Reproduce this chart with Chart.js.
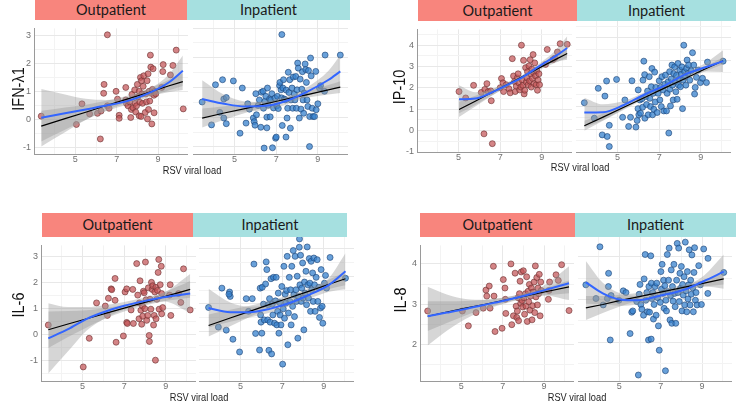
<!DOCTYPE html>
<html>
<head>
<meta charset="utf-8">
<script src="https://cdn.jsdelivr.net/npm/chart.js@4/dist/chart.umd.min.js"></script>
<style>
  body { margin: 0; background: #fff; width: 736px; height: 406px; position: relative; overflow: hidden; font-family: "Liberation Sans", Arial, sans-serif; }
  canvas { position: absolute; }
  .strip { position: absolute; font-family: Lato, "Open Sans", sans-serif; font-size: 14.5px; color: #1a1a1a; text-align: center; }
  .out { background: #F8857D; }
  .in { background: #A6E0E0; }
  .ytitle { position: absolute; font-size: 17px; color: #111; white-space: nowrap; transform: translate(-50%, -50%) rotate(-90deg) scaleX(0.85); }
  .xtitle { position: absolute; font-size: 10.5px; color: #222; white-space: nowrap; transform: translate(-50%, -50%) scaleX(0.88); }
</style>
</head>
<body>
<script>
// ---- data: [viral load, cytokine] ----
const ifnOut = [[3.35,0.12],[5.05,-0.18],[5.32,0.56],[5.69,0.2],[6.07,0.22],[6.21,-0.7],[6.24,0.3],[6.37,0.94],[6.39,1.26],[6.55,3.04],[6.55,0.49],[6.63,0.4],[6.97,1.01],[7.04,0.73],[7.12,0.15],[7.12,0.04],[7.44,1.15],[7.44,0.7],[7.47,0.58],[7.55,0.49],[7.63,0.63],[7.68,0.07],[7.71,0.36],[7.74,0.9],[7.79,0.42],[7.87,1.06],[7.89,0.58],[7.92,0.27],[7.96,0.49],[8.0,1.26],[8.02,0.81],[8.09,1.01],[8.09,0.13],[8.12,0.62],[8.15,1.51],[8.18,0.11],[8.2,1.39],[8.23,0.92],[8.25,0.58],[8.28,1.19],[8.31,1.57],[8.38,0.25],[8.41,0.92],[8.44,0.63],[8.47,1.39],[8.49,0.02],[8.52,1.64],[8.54,0.36],[8.57,1.01],[8.6,0.66],[8.63,2.31],[8.65,1.88],[8.68,0.94],[8.7,-0.16],[8.73,1.08],[8.76,1.82],[8.8,0.87],[8.81,0.24],[8.85,1.01],[8.89,0.92],[9.18,1.15],[9.23,1.72],[9.25,1.97],[9.6,1.6],[9.72,1.94],[9.88,2.49],[10.22,0.38]];
const ifnIn = [[3.44,0.51],[3.89,-0.26],[4.08,1.09],[4.29,0.16],[4.42,1.26],[4.48,0.61],[4.6,0.66],[4.48,-0.03],[4.6,-0.22],[4.94,1.22],[5.26,-0.54],[5.37,0.98],[5.55,-0.2],[5.63,0.45],[5.71,0.27],[5.9,-0.03],[5.94,-0.15],[5.98,-0.27],[6.02,0.79],[6.05,0.08],[6.13,0.39],[6.19,0.58],[6.26,-0.34],[6.29,0.84],[6.37,0.87],[6.39,0.3],[6.42,-1.04],[6.45,0.53],[6.5,0.7],[6.55,-0.36],[6.55,0],[6.58,0.98],[6.61,0.4],[6.68,0.61],[6.71,0.01],[6.74,0.58],[6.79,0.79],[6.82,-1.03],[6.87,0.31],[6.94,0.64],[6.97,-0.71],[7.0,-0.67],[7.03,0.38],[7.06,0.7],[7.1,0.29],[7.16,1.06],[7.18,1.17],[7.23,0.92],[7.26,0.65],[7.27,2.78],[7.29,-0.28],[7.32,0.98],[7.35,1.26],[7.39,0.61],[7.44,0.58],[7.47,-0.67],[7.48,0.91],[7.52,-0.03],[7.55,0.3],[7.58,1.51],[7.61,0.83],[7.65,1.26],[7.68,-0.37],[7.71,0.58],[7.76,0.98],[7.79,0.3],[7.82,1.35],[7.87,0.78],[7.9,0.58],[7.94,1.37],[7.97,0.3],[8.0,0.92],[8.03,1.82],[8.06,1.65],[8.11,-0.03],[8.15,1.28],[8.19,0.27],[8.23,0.94],[8.26,1.53],[8.29,0.58],[8.32,0.13],[8.35,0.81],[8.39,1.79],[8.42,1.6],[8.45,1.17],[8.48,0.58],[8.52,0.36],[8.55,1.57],[8.6,-0.99],[8.61,0.02],[8.65,1.99],[8.68,1.39],[8.73,0.3],[8.77,0.02],[8.84,0.02],[8.9,1.54],[8.92,0.25],[9.0,0.45],[9.08,0.98],[9.13,1.06],[9.32,0.87],[9.35,2.09],[10.08,2.09]];
const ipOut = [[5.02,1.83],[5.34,1.53],[5.72,2.12],[6.09,1.79],[6.22,-0.15],[6.26,1.93],[6.36,2.2],[6.42,1.83],[6.55,1.86],[6.57,1.4],[6.62,-0.61],[7.0,2.01],[7.06,2.44],[7.13,2.24],[7.16,1.83],[7.29,2.15],[7.42,1.96],[7.48,1.77],[7.58,3.37],[7.64,2.56],[7.69,2.3],[7.72,1.83],[7.77,2.08],[7.82,2.47],[7.86,2.66],[7.9,2.23],[7.93,1.91],[7.99,2.04],[8.02,4.0],[8.06,2.37],[8.09,2.12],[8.12,3.29],[8.15,1.72],[8.18,1.89],[8.22,2.95],[8.25,2.27],[8.28,2.47],[8.31,2.76],[8.34,2.15],[8.38,3.03],[8.41,2.33],[8.44,3.32],[8.46,2.66],[8.49,2.04],[8.52,2.88],[8.55,2.44],[8.58,3.56],[8.6,2.73],[8.63,2.2],[8.66,3.17],[8.7,2.56],[8.73,2.15],[8.76,2.81],[8.79,1.89],[8.82,2.37],[8.86,2.66],[8.89,2.15],[9.18,3.1],[9.26,3.8],[9.53,3.32],[9.62,3.39],[9.75,3.68],[9.88,4.07],[10.22,4.04]];
const ipIn = [[3.4,1.16],[3.88,0.48],[4.07,1.79],[4.26,-0.25],[4.39,1.45],[4.47,2.11],[4.5,-0.32],[4.6,0.17],[4.6,-0.76],[4.95,2.18],[5.24,0.52],[5.35,1.28],[5.53,0.12],[5.62,0.52],[5.69,2.12],[5.88,0.09],[5.94,0.38],[5.98,0.9],[5.99,1.72],[6.02,0.63],[6.07,1.28],[6.1,0.7],[6.17,1.33],[6.2,0.96],[6.22,2.15],[6.26,2.98],[6.3,2.39],[6.31,0.48],[6.36,1.43],[6.39,1.08],[6.44,1.67],[6.47,0.63],[6.52,2.3],[6.55,1.35],[6.58,0.99],[6.62,1.86],[6.65,2.66],[6.68,0.63],[6.71,1.57],[6.74,0.87],[6.78,2.5],[6.81,1.19],[6.84,1.83],[6.9,0.73],[6.95,1.57],[7.0,2.12],[7.03,1.28],[7.06,1.83],[7.1,0.99],[7.13,2.3],[7.19,1.72],[7.22,0.8],[7.27,1.97],[7.3,2.37],[7.35,0.8],[7.38,1.57],[7.43,2.08],[7.46,-0.17],[7.5,2.52],[7.51,1.75],[7.54,1.02],[7.58,2.2],[7.61,2.81],[7.64,1.93],[7.67,1.28],[7.7,2.44],[7.74,2.73],[7.77,2.08],[7.8,1.64],[7.83,2.36],[7.86,1.31],[7.9,2.88],[7.93,1.93],[7.96,2.18],[7.99,2.59],[8.02,1.86],[8.06,2.41],[8.09,2.73],[8.12,0.9],[8.15,2.15],[8.18,3.68],[8.22,2.52],[8.25,2.3],[8.28,1.93],[8.31,2.66],[8.34,3.03],[8.38,2.44],[8.41,2.81],[8.47,2.15],[8.54,2.56],[8.6,3.35],[8.66,2.81],[8.7,1.54],[8.73,1.83],[8.79,2.27],[8.87,2.59],[8.98,2.04],[9.08,2.23],[9.27,2.04],[9.32,2.94],[10.07,2.98]];
const il6Out = [[3.35,0.36],[5.03,-1.25],[5.32,-0.15],[5.67,1.21],[6.09,1.09],[6.19,0.73],[6.24,1.39],[6.37,1.75],[6.4,1.72],[6.56,2.15],[6.56,1.31],[6.61,-0.3],[6.96,-0.06],[7.04,1.63],[7.12,1.75],[7.12,0.46],[7.15,0.42],[7.33,0.94],[7.41,1.73],[7.44,0.42],[7.6,2.72],[7.65,1.51],[7.71,0.6],[7.73,1.21],[7.76,2.06],[7.8,0.93],[7.84,0.39],[7.88,1.09],[7.89,0.7],[7.92,1.66],[7.96,1.6],[7.99,0.99],[8.02,2.78],[8.05,1.33],[8.08,0.54],[8.13,0.73],[8.16,1.79],[8.2,-0.04],[8.21,-0.27],[8.24,1.35],[8.28,0.97],[8.31,2.0],[8.34,1.73],[8.37,1.87],[8.41,0.36],[8.44,0.73],[8.47,1.63],[8.5,-0.99],[8.52,1.81],[8.53,0.6],[8.57,1.35],[8.6,1.69],[8.63,2.38],[8.66,2.88],[8.68,0.97],[8.73,1.91],[8.78,2.62],[8.8,0.79],[8.85,1.03],[8.8,1.57],[9.21,1.91],[9.24,0.73],[9.18,1.51],[9.61,1.57],[9.72,1.23],[9.85,2.52],[10.17,0.94]];
const il6In = [[3.46,0.87],[3.93,0.16],[4.1,1.57],[4.31,0.05],[4.47,1.43],[4.5,1.27],[4.44,1.35],[4.63,-0.28],[4.95,-0.74],[5.27,1.19],[5.38,0.73],[5.56,1.19],[5.64,2.44],[5.72,-0.07],[5.91,-0.67],[5.94,1.57],[5.96,0.6],[5.98,0.34],[6.02,-0.06],[6.04,1.6],[6.1,0.99],[6.14,0.42],[6.2,1.72],[6.23,2.52],[6.26,2.24],[6.3,0.42],[6.33,0.97],[6.36,-0.68],[6.39,1.19],[6.42,0.34],[6.46,1.91],[6.49,-0.81],[6.52,0.99],[6.55,0.6],[6.58,1.96],[6.63,0.3],[6.68,1.11],[6.71,1.96],[6.74,0.24],[6.78,0.73],[6.81,1.39],[6.84,-0.06],[6.87,1.05],[6.9,0.6],[6.94,0.24],[6.98,1.63],[7.02,-1.18],[7.05,0.82],[7.08,2.36],[7.11,0.48],[7.14,1.35],[7.18,1.03],[7.21,1.48],[7.24,2.72],[7.27,-0.48],[7.3,0.67],[7.34,1.96],[7.37,1.09],[7.4,1.51],[7.43,0.24],[7.46,2.36],[7.5,0.91],[7.53,2.93],[7.56,1.33],[7.59,0.54],[7.62,2.72],[7.66,1.51],[7.69,1.09],[7.72,2.0],[7.75,-0.24],[7.78,1.27],[7.82,3.05],[7.83,3.35],[7.85,1.69],[7.88,2.76],[7.91,1.09],[7.94,1.57],[7.98,2.48],[8.01,1.21],[8.04,0.06],[8.07,1.79],[8.1,1.39],[8.14,2.18],[8.17,0.97],[8.2,3.06],[8.23,1.69],[8.26,1.21],[8.3,2.64],[8.33,1.75],[8.36,0.73],[8.39,2.54],[8.42,1.51],[8.46,2.12],[8.49,1.09],[8.52,2.66],[8.55,1.69],[8.58,0.73],[8.63,1.96],[8.68,2.6],[8.71,1.09],[8.76,1.6],[8.79,0.51],[8.84,0.85],[8.87,2.24],[8.92,0.91],[8.95,0.3],[9.03,1.75],[9.08,2.03],[9.13,1.57],[9.3,2.68],[10.04,1.93]];
const il8Out = [[3.37,2.83],[5.05,2.83],[5.34,2.46],[5.71,2.79],[6.06,2.9],[6.19,3.35],[6.23,3.2],[6.35,3.45],[6.39,2.9],[6.55,3.94],[6.58,3.2],[6.63,2.32],[6.97,2.4],[7.03,3.61],[7.11,3.4],[7.13,3.12],[7.15,2.77],[7.4,4.0],[7.44,2.49],[7.52,2.71],[7.6,3.77],[7.65,2.95],[7.68,2.67],[7.71,2.83],[7.74,3.16],[7.77,2.59],[7.81,3.26],[7.84,3.57],[7.87,3.02],[7.9,3.8],[7.94,3.09],[7.97,2.93],[8.0,3.83],[8.03,3.16],[8.06,2.75],[8.1,3.26],[8.13,2.95],[8.16,3.68],[8.19,2.57],[8.23,3.32],[8.26,3.06],[8.29,3.49],[8.32,2.85],[8.35,3.2],[8.39,3.4],[8.42,2.61],[8.45,2.96],[8.48,3.3],[8.52,3.55],[8.55,2.79],[8.58,3.95],[8.61,3.18],[8.65,3.66],[8.68,2.98],[8.71,3.4],[8.74,3.26],[8.77,3.74],[8.81,2.71],[8.84,3.55],[8.87,3.34],[9.21,3.12],[9.24,3.34],[9.27,3.55],[9.58,3.73],[9.69,3.59],[9.85,3.98],[10.21,2.84]];
const il8In = [[3.38,3.34],[3.87,3.02],[4.06,4.23],[4.22,2.87],[4.42,3.02],[4.47,3.3],[4.48,3.61],[4.56,2.05],[4.6,3.09],[4.98,2.98],[5.19,3.2],[5.32,3.16],[5.52,2.2],[5.6,2.7],[5.65,2.73],[5.84,2.95],[5.92,1.23],[5.96,3.12],[6.0,3.35],[6.04,2.88],[6.09,2.77],[6.17,2.63],[6.2,3.48],[6.25,4.05],[6.28,2.98],[6.33,3.16],[6.36,2.71],[6.41,2.05],[6.43,3.3],[6.46,2.7],[6.52,4.02],[6.54,2.07],[6.55,3.38],[6.57,3.02],[6.62,3.16],[6.65,2.54],[6.68,2.88],[6.73,3.3],[6.78,2.63],[6.81,3.38],[6.85,3.04],[6.89,2.38],[6.93,1.81],[6.98,2.93],[7.01,3.65],[7.04,3.24],[7.07,3.82],[7.11,3.14],[7.14,3.45],[7.17,2.79],[7.2,3.32],[7.23,1.33],[7.25,2.98],[7.28,2.73],[7.32,4.05],[7.35,3.18],[7.38,3.45],[7.41,4.2],[7.45,2.52],[7.48,3.09],[7.51,3.69],[7.54,2.44],[7.57,3.3],[7.6,2.96],[7.64,3.82],[7.67,3.14],[7.7,2.83],[7.73,2.44],[7.77,3.45],[7.8,4.31],[7.83,3.16],[7.87,4.2],[7.9,2.95],[7.93,3.61],[7.96,3.26],[8.0,3.77],[8.03,2.73],[8.06,3.35],[8.09,3.1],[8.13,3.53],[8.16,2.87],[8.19,4.34],[8.22,3.2],[8.26,2.71],[8.29,3.65],[8.32,3.01],[8.35,3.34],[8.38,4.16],[8.42,2.87],[8.45,3.45],[8.48,3.12],[8.51,4.04],[8.55,3.27],[8.58,2.71],[8.61,3.63],[8.64,4.21],[8.68,2.98],[8.71,3.16],[8.76,2.87],[8.84,3.79],[8.92,3.34],[8.97,2.88],[9.08,4.18],[9.29,3.96],[9.28,3.14],[10.05,3.63]];

// ---- smoother curves: x grid, loess fit and half band, linear fit and half band ----
const ifnOutFx = [3.35, 4.5, 5.5, 6.5, 7.5, 8.5, 9.5, 10.2];
const ifnOutLoess = [0.06, 0.22, 0.36, 0.5, 0.66, 0.93, 1.32, 1.75];
const ifnOutLoessSe = [1.03, 0.68, 0.38, 0.2, 0.13, 0.14, 0.28, 0.55];
const ifnOutLm = [-0.24, 0.03, 0.26, 0.5, 0.73, 0.96, 1.2, 1.36];
const ifnOutLmSe = [0.55, 0.4, 0.27, 0.17, 0.12, 0.13, 0.22, 0.3];

const ifnInFx = [3.44, 4.5, 5.5, 6.5, 7.5, 8.5, 9.5, 10.08];
const ifnInLoess = [0.61, 0.45, 0.36, 0.38, 0.55, 0.86, 1.25, 1.54];
const ifnInLoessSe = [0.63, 0.3, 0.17, 0.13, 0.12, 0.15, 0.3, 0.55];
const ifnInLm = [-0.03, 0.14, 0.29, 0.45, 0.61, 0.76, 0.92, 1.01];
const ifnInLmSe = [0.32, 0.23, 0.15, 0.1, 0.08, 0.1, 0.16, 0.2];

const ipOutFx = [5.02, 5.8, 6.5, 7.3, 8.1, 8.9, 9.6, 10.22];
const ipOutLoess = [1.47, 1.5, 1.75, 2.12, 2.52, 3.03, 3.45, 3.87];
const ipOutLoessSe = [0.65, 0.3, 0.15, 0.1, 0.1, 0.12, 0.25, 0.55];
const ipOutLm = [0.99, 1.38, 1.74, 2.14, 2.54, 2.95, 3.3, 3.61];
const ipOutLmSe = [0.35, 0.25, 0.16, 0.1, 0.08, 0.1, 0.15, 0.2];

const ipInFx = [3.4, 4.3, 5.3, 6.3, 7.3, 8.2, 9.1, 10.07];
const ipInLoess = [0.73, 0.74, 1.06, 1.52, 1.93, 2.38, 2.68, 2.98];
const ipInLoessSe = [0.65, 0.35, 0.17, 0.1, 0.08, 0.1, 0.15, 0.48];
const ipInLm = [0.15, 0.53, 0.96, 1.39, 1.82, 2.2, 2.59, 3.0];
const ipInLmSe = [0.22, 0.16, 0.11, 0.07, 0.06, 0.07, 0.1, 0.15];

const il6OutFx = [3.35, 4.3, 5.2, 6.1, 7.0, 7.9, 8.9, 10.17];
const il6OutLoess = [-0.15, 0.2, 0.6, 0.88, 1.1, 1.27, 1.43, 1.57];
const il6OutLoessSe = [1.35, 0.85, 0.45, 0.25, 0.15, 0.13, 0.17, 0.75];
const il6OutLm = [0.18, 0.4, 0.6, 0.81, 1.01, 1.21, 1.44, 1.73];
const il6OutLmSe = [0.7, 0.5, 0.33, 0.2, 0.13, 0.12, 0.17, 0.32];

const il6InFx = [3.46, 4.5, 5.4, 6.4, 7.35, 8.3, 9.25, 10.04];
const il6InLoess = [0.85, 0.7, 0.7, 0.82, 1.03, 1.33, 1.69, 2.18];
const il6InLoessSe = [0.7, 0.35, 0.2, 0.14, 0.12, 0.14, 0.25, 0.65];
const il6InLm = [0.22, 0.49, 0.72, 0.98, 1.22, 1.46, 1.71, 1.91];
const il6InLmSe = [0.4, 0.3, 0.2, 0.13, 0.1, 0.11, 0.17, 0.24];

const il8OutFx = [3.37, 4.3, 5.2, 6.1, 7.0, 7.9, 8.9, 10.21];
const il8OutLoess = [2.7, 2.79, 2.88, 2.98, 3.08, 3.19, 3.33, 3.52];
const il8OutLoessSe = [0.73, 0.45, 0.25, 0.13, 0.08, 0.07, 0.1, 0.42];
const il8OutLm = [2.7, 2.8, 2.9, 2.99, 3.09, 3.18, 3.29, 3.43];
const il8OutLmSe = [0.37, 0.27, 0.18, 0.11, 0.07, 0.06, 0.09, 0.16];

const il8InFx = [3.38, 4.2, 5.0, 5.9, 7.0, 8.1, 9.1, 10.05];
const il8InLoess = [3.4, 3.14, 3.0, 2.98, 3.09, 3.22, 3.43, 3.65];
const il8InLoessSe = [0.5, 0.25, 0.15, 0.1, 0.08, 0.08, 0.13, 0.4];
const il8InLm = [2.8, 2.88, 2.97, 3.06, 3.17, 3.28, 3.38, 3.48];
const il8InLmSe = [0.28, 0.2, 0.14, 0.09, 0.06, 0.06, 0.08, 0.13];

// ---- ticks ----
const xTicks = [4, 5, 6, 7, 8, 9, 10];
const xLabels = [5, 7, 9];
const ifnTicks = [-1, -0.5, 0, 0.5, 1, 1.5, 2, 2.5, 3];
const ipTicks = [-1, -0.5, 0, 0.5, 1, 1.5, 2, 2.5, 3, 3.5, 4, 4.5];
const il6Ticks = [-1.5, -1, -0.5, 0, 0.5, 1, 1.5, 2, 2.5, 3];
const il8Ticks = [1.5, 2, 2.5, 3, 3.5, 4];

const outFill = 'rgba(195,85,88,0.72)', outEdge = 'rgba(110,50,50,0.8)';
const inFill = 'rgba(55,130,205,0.75)', inEdge = 'rgba(30,70,120,0.8)';

function xy(xs, ys, se, sign) {
    return xs.map(function (x, i) { return { x: x, y: ys[i] + (se ? sign * se[i] : 0) }; });
}

function facet(c) {
    const pad = c.showY ? 30 : 0, bottom = 15;
    const cv = document.createElement('canvas');
    cv.width = c.w + pad;
    cv.height = c.h + bottom;
    cv.style.left = (c.x - pad) + 'px';
    cv.style.top = c.y + 'px';
    document.body.appendChild(cv);

    const band = { type: 'line', pointRadius: 0, borderWidth: 0, borderColor: 'rgba(0,0,0,0)',
        backgroundColor: 'rgba(153,153,153,0.4)', cubicInterpolationMode: 'monotone', order: 2 };

    new Chart(cv, {
        type: 'scatter',
        data: {
            datasets: [
                Object.assign({}, band, { data: xy(c.fx, c.loess, c.loessSe, 1), fill: '+1' }),
                Object.assign({}, band, { data: xy(c.fx, c.loess, c.loessSe, -1), fill: false }),
                Object.assign({}, band, { data: xy(c.fx, c.lm, c.lmSe, 1), fill: '+1' }),
                Object.assign({}, band, { data: xy(c.fx, c.lm, c.lmSe, -1), fill: false }),
                { type: 'line', data: xy(c.fx, c.lm), borderColor: '#000', borderWidth: 1.2, pointRadius: 0, fill: false, order: 1 },
                { type: 'line', data: xy(c.fx, c.loess), borderColor: '#3366FF', borderWidth: 2, pointRadius: 0,
                  fill: false, cubicInterpolationMode: 'monotone', order: 0 },
                { data: c.pts.map(function (p) { return { x: p[0], y: p[1] }; }),
                  backgroundColor: c.out ? outFill : inFill, borderColor: c.out ? outEdge : inEdge,
                  borderWidth: 0.8, pointRadius: 3.0, order: 3 }
            ]
        },
        options: {
            responsive: false,
            animation: false,
            layout: { padding: 0, autoPadding: false },
            plugins: { legend: { display: false }, tooltip: { enabled: false } },
            scales: {
                x: {
                    type: 'linear', min: 3, max: 10.45,
                    afterBuildTicks: function (s) { s.ticks = xTicks.map(function (v) { return { value: v }; }); },
                    afterFit: function (s) { s.height = bottom; },
                    ticks: {
                        autoSkip: false, maxRotation: 0, padding: 0, color: '#707070',
                        font: { size: 9, family: 'Liberation Sans, Arial' },
                        callback: function (v) { return xLabels.indexOf(v) >= 0 ? String(v) : ''; }
                    },
                    grid: { drawTicks: false, color: function (ctx) { return xLabels.indexOf(ctx.tick && ctx.tick.value) >= 0 ? '#e8e8e8' : '#f3f3f3'; } },
                    border: { display: true, color: '#9a9a9a', width: 1 }
                },
                y: {
                    type: 'linear', min: c.yMin, max: c.yMax,
                    afterBuildTicks: function (s) { s.ticks = c.yTicks.map(function (v) { return { value: v }; }); },
                    afterFit: function (s) { s.width = pad; },
                    ticks: {
                        display: c.showY, autoSkip: false, padding: 3, color: '#707070',
                        font: { size: 9, family: 'Liberation Sans, Arial' },
                        callback: function (v) { return Number.isInteger(v) ? String(v) : ''; }
                    },
                    grid: { drawTicks: false, color: function (ctx) { return ctx.tick && Number.isInteger(ctx.tick.value) ? '#e8e8e8' : '#f3f3f3'; } },
                    border: { display: c.showY, color: '#9a9a9a', width: 1 }
                }
            }
        }
    });
}

function label(cls, text, style) {
    const d = document.createElement('div');
    d.className = cls;
    d.textContent = text;
    Object.assign(d.style, style);
    document.body.appendChild(d);
}

function strips(y, h, x0, x1, x2) {
    label('strip out', 'Outpatient', { left: x0 + 'px', top: y + 'px', width: (x1 - x0) + 'px', height: h + 'px', lineHeight: h + 'px' });
    label('strip in', 'Inpatient', { left: x1 + 'px', top: y + 'px', width: (x2 - x1) + 'px', height: h + 'px', lineHeight: h + 'px' });
}

// IFN-λ1
facet({ x: 34, y: 20, w: 154, h: 134, yMin: -1.24, yMax: 3.27, yTicks: ifnTicks, showY: true, out: true,
        pts: ifnOut, fx: ifnOutFx, loess: ifnOutLoess, loessSe: ifnOutLoessSe, lm: ifnOutLm, lmSe: ifnOutLmSe });
facet({ x: 193, y: 20, w: 155, h: 134, yMin: -1.24, yMax: 3.27, yTicks: ifnTicks, showY: false, out: false,
        pts: ifnIn, fx: ifnInFx, loess: ifnInLoess, loessSe: ifnInLoessSe, lm: ifnInLm, lmSe: ifnInLmSe });
// IP-10
facet({ x: 417, y: 21, w: 155, h: 131, yMin: -1.0, yMax: 4.74, yTicks: ipTicks, showY: true, out: true,
        pts: ipOut, fx: ipOutFx, loess: ipOutLoess, loessSe: ipOutLoessSe, lm: ipOutLm, lmSe: ipOutLmSe });
facet({ x: 576, y: 21, w: 155, h: 131, yMin: -1.0, yMax: 4.74, yTicks: ipTicks, showY: false, out: false,
        pts: ipIn, fx: ipInFx, loess: ipInLoess, loessSe: ipInLoessSe, lm: ipInLm, lmSe: ipInLmSe });
// IL-6
facet({ x: 41, y: 237, w: 155, h: 144, yMin: -1.79, yMax: 3.42, yTicks: il6Ticks, showY: true, out: true,
        pts: il6Out, fx: il6OutFx, loess: il6OutLoess, loessSe: il6OutLoessSe, lm: il6OutLm, lmSe: il6OutLmSe });
facet({ x: 199, y: 237, w: 155, h: 144, yMin: -1.79, yMax: 3.42, yTicks: il6Ticks, showY: false, out: false,
        pts: il6In, fx: il6InFx, loess: il6InLoess, loessSe: il6InLoessSe, lm: il6InLm, lmSe: il6InLmSe });
// IL-8
facet({ x: 420, y: 237, w: 154, h: 144, yMin: 1.09, yMax: 4.46, yTicks: il8Ticks, showY: true, out: true,
        pts: il8Out, fx: il8OutFx, loess: il8OutLoess, loessSe: il8OutLoessSe, lm: il8OutLm, lmSe: il8OutLmSe });
facet({ x: 578, y: 237, w: 154, h: 144, yMin: 1.09, yMax: 4.46, yTicks: il8Ticks, showY: false, out: false,
        pts: il8In, fx: il8InFx, loess: il8InLoess, loessSe: il8InLoessSe, lm: il8InLm, lmSe: il8InLmSe });

strips(0, 20, 35, 187, 350);
strips(0, 21, 418, 577, 736);
strips(213, 24, 42, 193, 347);
strips(213, 24, 420, 575, 736);

label('ytitle', 'IFN-λ1', { left: '19px', top: '89px' });
label('ytitle', 'IP-10', { left: '400px', top: '87px' });
label('ytitle', 'IL-6', { left: '19px', top: '305px' });
label('ytitle', 'IL-8', { left: '401px', top: '300px' });

label('xtitle', 'RSV viral load', { left: '192px', top: '170px' });
label('xtitle', 'RSV viral load', { left: '580px', top: '167px' });
label('xtitle', 'RSV viral load', { left: '199px', top: '397px' });
label('xtitle', 'RSV viral load', { left: '577px', top: '397px' });
</script>
</body>
</html>
